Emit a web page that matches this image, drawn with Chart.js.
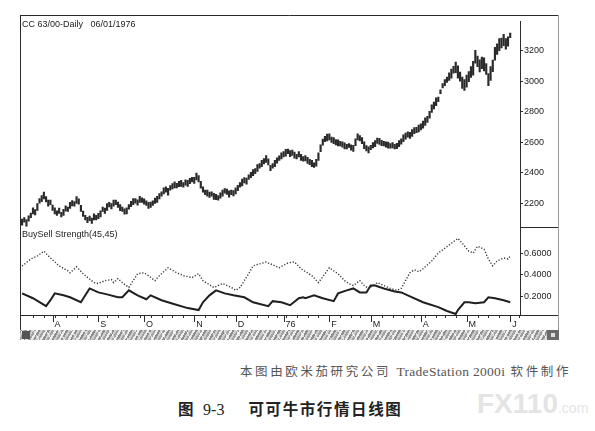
<!DOCTYPE html>
<html>
<head>
<meta charset="utf-8">
<script src="https://cdn.jsdelivr.net/npm/chart.js@4"></script>
<style>
  body { margin: 0; background: #fff; width: 595px; height: 431px; position: relative; overflow: hidden; }
  #wrap { position: absolute; left: 20px; top: 15px; width: 539px; height: 315px; }
  #scroll {
    position: absolute; left: 20px; top: 330px; width: 539px; height: 10px;
    background:
      repeating-linear-gradient(60deg, rgba(255,255,255,0) 0 5px, rgba(255,255,255,0.7) 5px 6px, rgba(255,255,255,0) 6px 11px),
      repeating-linear-gradient(120deg, #8e8e8e 0 2px, #cfcfcf 2px 4px, #a3a3a3 4px 6px, #ececec 6px 8px);
  }
  #scroll .btnL { position: absolute; left: 2px; top: 1px; width: 8px; height: 8px; background: #555; }
  #scroll .btnR { position: absolute; right: 0; top: 0; width: 12px; height: 10px; background: #6a6a6a; }
  #scroll .btnR::after { content: ''; position: absolute; left: 4px; top: 3px; width: 4px; height: 4px; background: #ddd; }
  .cap1 {
    position: absolute; left: 240px; top: 361px; font: 12.5px "Noto Sans CJK SC", sans-serif;
    color: #555; letter-spacing: 2.6px; white-space: nowrap;
  }
  .cap1 .lat { font-family: "Liberation Serif", serif; font-size: 13.5px; letter-spacing: 0.3px; }
  .cap2 {
    position: absolute; left: 178px; top: 397px; font: 700 15.5px "Noto Sans CJK SC", sans-serif;
    color: #222; white-space: nowrap; letter-spacing: 1.6px;
  }
  .cap2 .num { font-family: "Liberation Serif", serif; font-weight: 400; font-size: 16px; margin: 0 24px 0 8px; letter-spacing: 0; }
  .wm { position: absolute; left: 477px; top: 388px; font: 700 28px "Liberation Sans", sans-serif; color: #e4e4e4; white-space: nowrap; }
  .wm small { font-size: 14px; font-weight: 400; }
</style>
</head>
<body>
<div id="wrap"><canvas id="cc" width="539" height="315"></canvas></div>
<div id="scroll"><div class="btnL"></div><div class="btnR"></div></div>
<div class="cap1">本图由欧米茄研究公司 <span class="lat">TradeStation 2000i</span> 软件制作</div>
<div class="wm">FX110<small>.com</small></div>
<div class="cap2">图<span class="num">9-3</span>可可牛市行情日线图</div>

<script>
// trading calendar
const firstDay = '1975-07-14';
const lastDay = '1976-06-07';
const holidays = ['1975-09-01', '1975-11-27', '1975-12-25', '1976-01-01', '1976-02-16', '1976-04-16', '1976-05-31'];
const monthLabels = ['76', 'F', 'M', 'A', 'M', 'J', 'J', 'A', 'S', 'O', 'N', 'D'];

// daily bars: centre and height of each bar
const barMid = [
  2075, 2090, 2070, 2100, 2120, 2150, 2140, 2175, 2215, 2230, 2250,
  2225, 2200, 2205, 2170, 2150, 2135,
  2150, 2125, 2140, 2165, 2160,
  2185, 2200, 2195, 2220, 2210,
  2165, 2130, 2105, 2090,
  2100, 2085, 2110, 2105, 2115,
  2130, 2160, 2150, 2175, 2190, 2180, 2200, 2205,
  2190, 2170, 2160, 2145, 2150,
  2175, 2195, 2210, 2215, 2205, 2225, 2220,
  2210, 2200, 2185, 2190,
  2200, 2215, 2225, 2245, 2260, 2280,
  2290, 2275, 2300, 2310, 2320,
  2315, 2325, 2330, 2320, 2335, 2330,
  2345, 2355, 2350, 2375,
  2360, 2320, 2290, 2270, 2265, 2255, 2260, 2245, 2240, 2235,
  2250, 2265, 2280, 2275, 2260, 2270, 2265,
  2280, 2300, 2320, 2335, 2350, 2345, 2370, 2385,
  2400, 2410, 2430, 2445, 2460, 2475, 2490,
  2470, 2430, 2445, 2460, 2480,
  2495, 2510, 2520, 2530, 2540, 2525, 2530,
  2515, 2505, 2520, 2500, 2490, 2495, 2480,
  2470, 2460, 2450, 2465, 2505,
  2560, 2600, 2620, 2630, 2635, 2615, 2610,
  2600, 2595, 2590, 2585, 2575, 2570, 2578,
  2565, 2560, 2600, 2635, 2625, 2610,
  2580, 2560, 2550, 2565, 2580, 2590, 2610,
  2605, 2595, 2590, 2585, 2580, 2575, 2580,
  2570, 2575, 2590, 2605, 2625, 2640,
  2650, 2645, 2660, 2675, 2680, 2690, 2700,
  2715, 2735, 2750, 2780, 2820, 2840, 2865,
  2880, 2930, 2970, 2990, 3010, 3030,
  3050, 3075, 3090, 3060, 3030, 2990, 2975,
  3000, 3030, 3060, 3085, 3160, 3130, 3100,
  3120, 3110, 3080, 3010, 3050, 3100, 3180,
  3210, 3240, 3250, 3270, 3245, 3260, 3300
];
const barRange = [
  40, 30, 45, 35, 30, 40, 35, 45, 30, 40, 45,
  35, 40, 30, 35, 40, 30,
  35, 30, 40, 35, 30,
  40, 35, 30, 45, 35,
  40, 35, 30, 35,
  30, 35, 40, 30, 35,
  40, 30, 35, 45, 30, 35, 40, 30,
  35, 40, 30, 35, 40,
  30, 35, 40, 30, 35, 40, 30,
  35, 30, 40, 35,
  30, 35, 40, 35, 30, 40,
  35, 45, 30, 35, 40,
  30, 35, 40, 30, 35, 40,
  35, 30, 40, 45,
  40, 45, 35, 30, 40, 35, 30, 40, 35, 30,
  35, 40, 30, 35, 40, 30, 35,
  40, 35, 30, 45, 35, 40, 30, 35,
  40, 35, 45, 30, 40, 35, 45,
  40, 35, 30, 40, 35,
  30, 40, 35, 45, 30, 40, 35,
  40, 30, 35, 40, 30, 35, 40,
  35, 40, 30, 45, 50,
  45, 40, 35, 45, 40, 35, 40,
  35, 40, 30, 35, 40, 30, 25,
  35, 40, 45, 40, 35, 40,
  45, 35, 40, 30, 35, 40, 35,
  40, 35, 30, 35, 40, 30, 35,
  30, 35, 40, 35, 45, 40,
  35, 40, 45, 40, 35, 45, 40,
  45, 50, 40, 45, 50, 45, 50,
  30, 25, 30, 40, 35, 50,
  60, 45, 70, 80, 60, 75, 70,
  80, 65, 70, 90, 85, 70, 80,
  75, 85, 70, 80, 90, 75, 85,
  70, 80, 65, 75, 70, 60, 30
];

// BuySell Strength(45,45): bar index and value
const dottedIdx = [0, 4, 7, 10, 13, 17, 21, 22, 25, 28, 33, 35, 38, 41, 42, 44, 46, 49, 51, 53, 56, 58, 61, 63, 67, 71, 74, 78, 81, 83,
  88, 92, 96, 98, 100, 104, 106, 109, 112, 114, 118, 122, 125, 128, 133, 136, 139, 141, 145, 148, 150, 152, 155, 157, 159,
  163, 166, 169, 172, 174, 176, 178, 180, 182, 184, 188, 191, 194, 197, 200, 202, 205, 207, 209, 212, 214, 216, 218, 221, 223, 224];
const dottedVal = [0.48, 0.545, 0.573, 0.618, 0.555, 0.482, 0.436, 0.418, 0.473, 0.409, 0.327, 0.318, 0.345, 0.355, 0.327, 0.364, 0.327, 0.282, 0.345, 0.409, 0.418, 0.391, 0.345, 0.391, 0.464, 0.418, 0.391, 0.373, 0.409, 0.345,
  0.282, 0.318, 0.282, 0.255, 0.282, 0.409, 0.482, 0.5, 0.518, 0.5, 0.464, 0.509, 0.518, 0.455, 0.391, 0.327, 0.409, 0.464, 0.409, 0.345, 0.318, 0.3, 0.345, 0.3, 0.273,
  0.327, 0.3, 0.273, 0.255, 0.273, 0.345, 0.418, 0.445, 0.427, 0.455, 0.527, 0.6, 0.645, 0.691, 0.736, 0.691, 0.618, 0.6, 0.664, 0.636, 0.545, 0.482, 0.527, 0.555, 0.545, 0.573];
const solidIdx = [0, 5, 11, 13, 15, 19, 22, 27, 29, 31, 35, 39, 44, 46, 49, 53, 57, 59, 64, 70, 76, 81, 83, 86, 89, 93, 97, 102, 106, 113,
  115, 119, 123, 127, 129, 130, 134, 138, 143, 145, 149, 152, 155, 158, 160, 162, 166, 171, 174, 178, 184, 191, 195, 199, 200,
  203, 205, 208, 212, 214, 217, 221, 224];
const solidVal = [0.227, 0.182, 0.109, 0.164, 0.227, 0.209, 0.191, 0.145, 0.209, 0.273, 0.236, 0.218, 0.191, 0.191, 0.255, 0.209, 0.173, 0.209, 0.164, 0.127, 0.091, 0.073, 0.145, 0.209, 0.255, 0.227, 0.209, 0.191, 0.145, 0.109,
  0.155, 0.145, 0.118, 0.182, 0.191, 0.182, 0.209, 0.182, 0.155, 0.227, 0.255, 0.273, 0.236, 0.236, 0.3, 0.3, 0.273, 0.245, 0.236, 0.2, 0.145, 0.1, 0.064, 0.036, 0.073,
  0.145, 0.145, 0.136, 0.145, 0.191, 0.182, 0.164, 0.145];

const priceTicks = [2200, 2400, 2600, 2800, 3000, 3200];
const strengthTicks = [0.2, 0.4, 0.6];

// build the trading days
const dates = [];
for (let d = new Date(firstDay + 'T00:00:00Z'); d <= new Date(lastDay + 'T00:00:00Z'); d.setUTCDate(d.getUTCDate() + 1)) {
  const s = d.toISOString().slice(0, 10);
  const dow = d.getUTCDay();
  if (dow === 0 || dow === 6 || holidays.includes(s)) continue;
  dates.push({ s: s, m: d.getUTCMonth(), dow: dow });
}
const labels = dates.map(d => d.s);
const monthStarts = [];
const weekStarts = [];
dates.forEach((d, i) => {
  if (i > 0 && d.m !== dates[i - 1].m) monthStarts.push(i);
  if (i > 0 && d.dow < dates[i - 1].dow) weekStarts.push(i);
});

const INK = '#2b2b2b';
const FONT = '9px "Liberation Sans", Arial, sans-serif';

// frame, panel separator, captions and date-axis tick marks
const framePlugin = {
  id: 'frame',
  afterDraw(chart) {
    const ctx = chart.ctx;
    const a = chart.chartArea;
    const W = chart.width, H = chart.height;
    const yp = chart.scales.yPrice;
    const x = chart.scales.x;
    ctx.save();
    ctx.strokeStyle = INK;
    ctx.lineWidth = 1;
    ctx.beginPath();
    ctx.moveTo(0, 0.5); ctx.lineTo(W, 0.5);
    ctx.moveTo(0.5, 0); ctx.lineTo(0.5, H);
    ctx.moveTo(a.right, Math.round(yp.bottom) + 0.5); ctx.lineTo(W, Math.round(yp.bottom) + 0.5);
    ctx.moveTo(0, Math.round(a.bottom) + 0.5); ctx.lineTo(W, Math.round(a.bottom) + 0.5);
    ctx.stroke();
    ctx.strokeStyle = '#9a9a9a';
    ctx.beginPath();
    ctx.moveTo(W - 0.5, 0); ctx.lineTo(W - 0.5, H);
    ctx.stroke();
    // week and month ticks on the date axis
    ctx.strokeStyle = INK;
    ctx.beginPath();
    weekStarts.forEach(i => {
      const px = Math.round(x.getPixelForValue(i)) + 0.5;
      ctx.moveTo(px, a.bottom); ctx.lineTo(px, a.bottom + 3);
    });
    monthStarts.forEach(i => {
      const px = Math.round(x.getPixelForValue(i)) + 0.5;
      ctx.moveTo(px, a.bottom); ctx.lineTo(px, a.bottom + 7);
    });
    ctx.stroke();
    ctx.fillStyle = '#222';
    ctx.font = FONT;
    ctx.textBaseline = 'middle';
    ctx.fillText('CC 63/00-Daily   06/01/1976', 2, 10);
    ctx.fillText('BuySell Strength(45,45)', 2, Math.round(yp.bottom) + 8);
    ctx.restore();
  }
};

new Chart(document.getElementById('cc'), {
  data: {
    labels: labels,
    datasets: [
      {
        type: 'bar',
        data: barMid.map((m, i) => [m - barRange[i] / 2, m + barRange[i] / 2]),
        yAxisID: 'yPrice',
        backgroundColor: '#2a2a2a',
        barThickness: 1.5,
        grouped: false
      },
      {
        type: 'line',
        data: dottedIdx.map((k, i) => ({ x: labels[k], y: dottedVal[i] })),
        yAxisID: 'yStr',
        borderColor: '#333',
        borderWidth: 1.4,
        borderDash: [1.2, 1.8],
        pointRadius: 0,
        tension: 0
      },
      {
        type: 'line',
        data: solidIdx.map((k, i) => ({ x: labels[k], y: solidVal[i] })),
        yAxisID: 'yStr',
        borderColor: '#1f1f1f',
        borderWidth: 2,
        pointRadius: 0,
        tension: 0
      }
    ]
  },
  options: {
    responsive: false,
    animation: false,
    devicePixelRatio: 1,
    layout: { padding: { left: 1, top: 1, right: 0, bottom: 0 } },
    plugins: { legend: { display: false }, tooltip: { enabled: false } },
    scales: {
      x: {
        type: 'category',
        offset: true,
        grid: { display: false, drawTicks: false, tickLength: 0 },
        border: { display: false },
        afterFit: s => { s.height = 15; },
        afterBuildTicks: s => { s.ticks = monthStarts.map(i => ({ value: i })); },
        ticks: {
          autoSkip: false,
          maxRotation: 0,
          align: 'start',
          labelOffset: 2,
          padding: 4,
          color: '#222',
          font: { family: '"Liberation Sans", Arial, sans-serif', size: 9 },
          callback: v => monthLabels[dates[v].m]
        }
      },
      yPrice: {
        type: 'linear',
        position: 'right',
        stack: 'panes',
        stackWeight: 209,
        min: 2046,
        max: 3392,
        afterFit: s => { s.width = 39; },
        afterBuildTicks: s => { s.ticks = priceTicks.map(v => ({ value: v })); },
        grid: { drawOnChartArea: false, tickLength: 3, color: INK },
        border: { display: true, color: INK },
        ticks: {
          padding: 1, color: '#222',
          font: { family: '"Liberation Sans", Arial, sans-serif', size: 9 },
          callback: v => String(v)
        }
      },
      yStr: {
        type: 'linear',
        position: 'right',
        stack: 'panes',
        stackWeight: 90,
        min: 0.027,
        max: 0.845,
        afterFit: s => { s.width = 39; },
        afterBuildTicks: s => { s.ticks = strengthTicks.map(v => ({ value: v })); },
        grid: { drawOnChartArea: false, tickLength: 3, color: INK },
        border: { display: true, color: INK },
        ticks: {
          padding: 1, color: '#222',
          font: { family: '"Liberation Sans", Arial, sans-serif', size: 9 },
          callback: v => v.toFixed(4)
        }
      }
    }
  },
  plugins: [framePlugin]
});
</script>
</body>
</html>
